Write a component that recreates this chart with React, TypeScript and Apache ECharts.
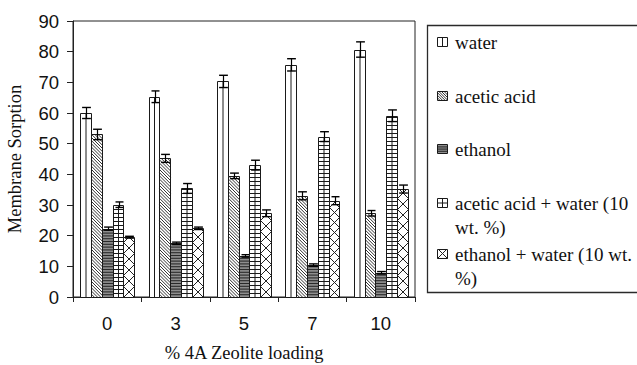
import React, { useEffect, useRef } from "react";
import * as echarts from "echarts";

// Zeolite loading levels (x axis)
const categories = ["0", "3", "5", "7", "10"];

// Membrane sorption per liquid, with ± error
const water = [60.0, 65.3, 70.3, 75.7, 80.7];
const waterErr = [1.8, 1.9, 2.0, 2.0, 2.5];
const aceticAcid = [53.0, 45.2, 39.5, 33.0, 27.3];
const aceticAcidErr = [1.7, 1.3, 0.9, 1.3, 0.9];
const ethanol = [22.3, 17.5, 13.4, 10.4, 7.9];
const ethanolErr = [0.5, 0.4, 0.4, 0.4, 0.4];
const aceticWater = [30.1, 35.4, 43.0, 52.3, 59.1];
const aceticWaterErr = [0.9, 1.6, 1.6, 1.6, 1.9];
const ethanolWater = [19.5, 22.4, 27.3, 31.4, 35.2];
const ethanolWaterErr = [0.3, 0.4, 1.1, 1.3, 1.3];

const seriesNames = [
  "water",
  "acetic acid",
  "ethanol",
  "acetic acid + water (10 wt. %)",
  "ethanol + water (10 wt. %)",
];
// Legend text, wrapped as in the legend box
const legendLines = [
  ["water"],
  ["acetic acid"],
  ["ethanol"],
  ["acetic acid + water (10", "wt. %)"],
  ["ethanol + water (10 wt.", "%)"],
];
const yTicks = ["0", "10", "20", "30", "40", "50", "60", "70", "80", "90"];

const seriesValues = [water, aceticAcid, ethanol, aceticWater, ethanolWater];
const seriesErrs = [waterErr, aceticAcidErr, ethanolErr, aceticWaterErr, ethanolWaterErr];

const SERIF = "Liberation Serif";
const SANS = "Liberation Sans";
const INK = "#1a1a1a";
const CATEGORY_GAP = 0.21;
const PATTERNS = ["vlines", "diag", "hstripes", "grid", "cross"];

function seg(x1: number, y1: number, x2: number, y2: number, stroke: string, lw: number) {
  return { type: "line", silent: true, shape: { x1, y1, x2, y2 }, style: { stroke, lineWidth: lw } };
}

// Parallel 45° lines through the bottom edge, clipped to the rectangle
function hatch(x: number, y: number, w: number, h: number, step: number, dir: number, stroke: string, lw: number) {
  const out: any[] = [];
  const yb = y + h;
  const kmin = Math.floor(-(w + h) / step) - 1;
  const kmax = Math.ceil((w + h) / step) + 1;
  for (let k = kmin; k <= kmax; k++) {
    const px = x + k * step;
    const py = yb;
    const t0 = x - px;
    const t1 = x + w - px;
    const u0 = dir > 0 ? y - py : py - yb;
    const u1 = dir > 0 ? yb - py : py - y;
    const a = Math.max(t0, u0);
    const b = Math.min(t1, u1);
    if (b - a > 0.3) out.push(seg(px + a, py + dir * a, px + b, py + dir * b, stroke, lw));
  }
  return out;
}

function patternEls(pat: string, x: number, y: number, w: number, h: number, small: boolean) {
  const els: any[] = [];
  const fill = pat === "hstripes" ? "#8e8e8e" : "#ffffff";
  els.push({ type: "rect", silent: true, shape: { x, y, width: w, height: h }, style: { fill, stroke: "none" } });
  if (pat === "vlines") {
    els.push(seg(x + w / 2, y, x + w / 2, y + h, INK, 1));
  } else if (pat === "diag") {
    els.push(...hatch(x, y, w, h, small ? 2.6 : 3.2, 1, "#333", 1));
  } else if (pat === "hstripes") {
    const step = small ? 2.2 : 2.8;
    for (let yy = y + h - step; yy > y + 0.5; yy -= step) els.push(seg(x, yy, x + w, yy, "#2a2a2a", 1.1));
  } else if (pat === "grid") {
    els.push(seg(x + w / 2, y, x + w / 2, y + h, INK, 1));
    const step = small ? h / 2 : 4;
    for (let yy = y + h - step; yy > y + 0.8; yy -= step) els.push(seg(x, yy, x + w, yy, INK, 1));
  } else if (pat === "cross") {
    els.push(...hatch(x, y, w, h, w, 1, "#222", 1));
    els.push(...hatch(x, y, w, h, w, -1, "#222", 1));
  }
  els.push({ type: "rect", silent: true, shape: { x, y, width: w, height: h }, style: { fill: "none", stroke: INK, lineWidth: 1 } });
  return els;
}

function makeRenderItem(sIdx: number) {
  return (params: any, api: any) => {
    const cat = api.value(0);
    const val = api.value(1);
    const err = api.value(2);
    const base = api.coord([cat, 0]);
    const top = api.coord([cat, val]);
    const band = api.size([1, 0])[0];
    const groupW = band * (1 - CATEGORY_GAP);
    const bw = groupW / seriesNames.length;
    const left = base[0] - groupW / 2 + sIdx * bw;
    const L = Math.round(left) + 0.5;
    const R = Math.round(left + bw) + 0.5;
    const T = Math.round(top[1]) + 0.5;
    const B = Math.round(base[1]) + 0.5;
    const children = patternEls(PATTERNS[sIdx], L, T, R - L, B - T, false);
    // error bar
    const cx = Math.round((L + R) / 2) + 0.5;
    const yHi = api.coord([cat, val + err])[1];
    const yLo = api.coord([cat, val - err])[1];
    const capHalf = (R - L) * 0.4;
    children.push(seg(cx, yHi, cx, yLo, "#000", 1.2));
    children.push(seg(cx - capHalf, yHi, cx + capHalf, yHi, "#000", 1.4));
    children.push(seg(cx - capHalf, yLo, cx + capHalf, yLo, "#000", 1.4));
    return { type: "group", children };
  };
}

function legendGraphic() {
  const els: any[] = [];
  els.push({
    type: "rect",
    silent: true,
    shape: { x: 427.5, y: 25.5, width: 240, height: 267 },
    style: { fill: "#fff", stroke: "#2a2a2a", lineWidth: 1.3 },
    z: 10,
  });
  const rowY = [42, 96, 149, 203, 254];
  const lineGap = 24;
  legendLines.forEach((lines, i) => {
    const cy = rowY[i];
    const icon = patternEls(PATTERNS[i], 437.5, Math.round(cy - 5) + 0.5, 10, 9, true);
    icon.forEach((el) => {
      el.z = 11;
      els.push(el);
    });
    lines.forEach((t, j) => {
      els.push({
        type: "text",
        silent: true,
        z: 11,
        x: 455,
        y: cy + j * lineGap,
        style: {
          text: t,
          fontFamily: SERIF,
          fontSize: 19,
          fill: "#111",
          align: "left",
          verticalAlign: "middle",
        },
      });
    });
  });
  return els;
}

export default function App() {
  const ref = useRef<HTMLDivElement>(null);
  useEffect(() => {
    if (!ref.current) return;
    const chart = echarts.init(ref.current, null, { renderer: "svg" });
    const option: any = {
      animation: false,
      backgroundColor: "#fff",
      grid: {
        left: 73,
        right: 222,
        top: 21,
        bottom: 68,
        containLabel: false,
        outerBoundsMode: "none",
        show: true,
        borderColor: "#222",
        borderWidth: 1,
        backgroundColor: "transparent",
      },
      xAxis: {
        type: "category",
        data: categories,
        axisLine: { lineStyle: { color: "#222", width: 1 } },
        axisTick: { show: true, length: 5, lineStyle: { color: "#222" } },
        axisLabel: { fontFamily: SANS, fontSize: 18.5, color: "#111", margin: 17 },
        splitLine: { show: false },
        name: "% 4A Zeolite loading",
        nameLocation: "middle",
        nameGap: 46,
        nameTextStyle: { fontFamily: SERIF, fontSize: 18.5, color: "#111" },
      },
      yAxis: {
        type: "value",
        min: 0,
        max: 90,
        interval: 10,
        axisLine: { show: true, lineStyle: { color: "#222", width: 1 } },
        axisTick: { show: true, length: 6, lineStyle: { color: "#222" } },
        axisLabel: {
          fontFamily: SANS,
          fontSize: 18.5,
          color: "#111",
          margin: 14,
          formatter: (v: number) => yTicks[Math.round(v / 10)] ?? String(v),
        },
        splitLine: { show: false },
        name: "Membrane Sorption",
        nameLocation: "middle",
        nameGap: 49,
        nameRotate: 90,
        nameTextStyle: { fontFamily: SERIF, fontSize: 18.5, color: "#111" },
      },
      series: seriesNames.map((name, s) => ({
        type: "custom",
        name,
        renderItem: makeRenderItem(s),
        dimensions: ["x", "y", "err"],
        encode: { x: 0, y: 1 },
        data: seriesValues[s].map((v, i) => [i, v, seriesErrs[s][i]]),
        clip: false,
      })),
      graphic: legendGraphic(),
    };
    chart.setOption(option);
    return () => chart.dispose();
  }, []);
  return (
    <div
      ref={ref}
      style={{ position: "fixed", left: 0, top: 0, width: 637, height: 365, background: "#fff" }}
    />
  );
}
